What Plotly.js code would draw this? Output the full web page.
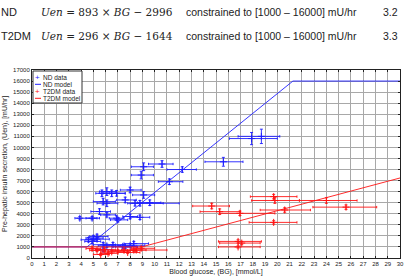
<!DOCTYPE html>
<html>
<head>
<meta charset="utf-8">
<script src="https://cdn.plot.ly/plotly-3.0.1.min.js"></script>
<style>
  html, body { margin: 0; padding: 0; background: #fff; }
  #chart { width: 408px; height: 278px; }
</style>
</head>
<body>
<div id="chart"></div>
<script>
// ND cohort: mean blood glucose (mmol/L) with range, and endogenous insulin secretion (mU/hr) with spread
const ndBG      = [3.9, 4.9, 5.5, 5.7, 6.1, 6.9, 5.8, 6.1, 6.1, 6.9, 7.0, 8.0, 8.8, 8.4, 8.8, 9.6, 9.1, 8.0, 7.6, 6.5,
                   9.1, 8.9, 10.6, 12.25, 11.2, 15.6, 17.9, 18.7,
                   4.6, 5.0, 5.3, 4.9, 5.3, 5.8, 6.1, 6.6, 7.4, 7.6, 8.3, 8.0, 5.8];
const ndBGlo    = [3.5, 4.4, 4.8, 5.2, 5.5, 6.3, 5.0, 5.3, 5.6, 6.3, 6.4, 7.4, 8.0, 7.8, 8.0, 8.6, 8.2, 7.2, 6.9, 5.8,
                   8.1, 8.1, 9.5, 11.0, 10.3, 14.1, 16.1, 16.8,
                   4.0, 4.4, 4.7, 4.3, 4.6, 5.0, 5.4, 5.9, 6.5, 6.8, 7.5, 7.0, 5.2];
const ndBGhi    = [5.3, 5.5, 6.4, 6.5, 6.8, 7.6, 6.8, 7.0, 6.8, 7.5, 7.8, 8.6, 9.6, 10.7, 12.0, 10.5, 10.0, 8.9, 8.5, 7.6,
                   9.9, 9.9, 11.5, 13.4, 12.3, 17.2, 20.0, 20.2,
                   5.3, 5.8, 6.2, 5.6, 6.3, 6.8, 7.2, 7.6, 8.5, 8.6, 9.5, 9.2, 6.5];
const ndUen     = [3600, 3600, 4200, 5850, 6000, 5850, 5100, 4950, 3900, 3600, 3450, 3750, 3680, 4950, 4950, 5000, 5700, 6150, 5250, 5850,
                   8250, 7500, 8500, 8000, 6900, 8700, 10800, 11000,
                   1650, 1800, 1950, 1500, 1700, 1200, 1100, 1200, 1050, 1000, 1300, 1150, 750];
const ndUenErr  = [150, 150, 250, 300, 350, 250, 300, 300, 200, 200, 200, 200, 200, 250, 250, 250, 300, 250, 250, 300,
                   350, 350, 300, 250, 250, 400, 550, 650,
                   200, 250, 200, 200, 200, 200, 150, 200, 150, 150, 200, 150, 150];

// T2DM cohort
const t2BG      = [4.9, 5.3, 5.9, 6.2, 6.5, 7.0, 7.5, 8.3, 8.5, 8.9, 5.6, 7.8,
                   16.8, 17.1, 16.8,
                   14.65, 15.3, 16.95, 19.7, 19.8, 20.6, 19.7, 24.0, 25.6];
const t2BGlo    = [4.4, 4.7, 5.2, 5.6, 5.7, 6.2, 6.6, 7.3, 8.0, 8.1, 5.0, 7.0,
                   15.2, 15.3, 15.2,
                   13.1, 13.7, 15.3, 17.8, 17.9, 18.6, 17.7, 21.8, 22.9];
const t2BGhi    = [5.6, 6.0, 6.8, 7.0, 7.5, 8.0, 8.5, 9.3, 11.0, 10.0, 6.3, 8.8,
                   18.7, 18.6, 18.6,
                   16.1, 17.0, 19.8, 21.6, 21.8, 22.7, 21.6, 26.5, 28.1];
const t2Uen     = [850, 700, 750, 420, 550, 630, 700, 720, 720, 880, 320, 500,
                   1500, 1350, 1000,
                   4700, 4190, 4040, 5550, 5200, 4340, 3220, 5200, 4600];
const t2UenErr  = [150, 120, 150, 100, 120, 120, 120, 120, 120, 150, 100, 100,
                   150, 150, 100,
                   250, 250, 200, 200, 250, 200, 150, 250, 200];

// Model lines: Uen = a*BG + b, constrained to [1000, 16000] mU/hr (breakpoints of the clipped line)
const ndModelBG  = [0, 4.48, 21.27, 30];
const ndModelUen = [1000, 1000, 16000, 16000];
const t2ModelBG  = [0, 8.93, 30];
const t2ModelUen = [1000, 1000, 7236];

const xTicks = [...Array(31).keys()];
const yTicks = [...Array(18).keys()].map(k => k * 1000);

const BLUE = 'rgb(30,30,255)';
const RED = 'rgb(255,20,20)';

const diff = (a, b) => a.map((v, i) => v - b[i]);

function dataTrace(name, bg, lo, hi, uen, err, color) {
  return {
    type: 'scatter', mode: 'markers', name: name, showlegend: false,
    x: bg, y: uen,
    marker: { symbol: 'cross-thin-open', size: 5, line: { color: color, width: 1 }, color: color },
    error_x: { type: 'data', symmetric: false, array: diff(hi, bg), arrayminus: diff(bg, lo),
               color: color, thickness: 0.9, width: 1.2 },
    error_y: { type: 'data', array: err, color: color, thickness: 0.9, width: 1.5 },
    hoverinfo: 'skip'
  };
}

const traces = [
  dataTrace('ND data', ndBG, ndBGlo, ndBGhi, ndUen, ndUenErr, BLUE),
  dataTrace('T2DM data', t2BG, t2BGlo, t2BGhi, t2Uen, t2UenErr, RED),
  { type: 'scatter', mode: 'lines', name: 'ND model', showlegend: false,
    x: ndModelBG, y: ndModelUen, line: { color: BLUE, width: 0.9 } },
  { type: 'scatter', mode: 'lines', name: 'T2DM model', showlegend: false,
    x: t2ModelBG, y: t2ModelUen, line: { color: RED, width: 0.9 } }
];

// plot area: x 32..400 px, y 70..258 px
const px = v => (v - 32) / 368;
const py = v => (258 - v) / 188;

const txt = { family: 'Liberation Sans, Arial, sans-serif', color: '#222' };
const eq  = { family: 'DejaVu Serif, serif', color: '#222' };

function note(x, y, text, font, size) {
  return { xref: 'paper', yref: 'paper', x: px(x), y: py(y), xanchor: 'left', yanchor: 'middle',
           text: text, showarrow: false, font: Object.assign({ size: size }, font), borderpad: 0 };
}

const annotations = [
  note(0, 12.5, 'ND', txt, 11),
  note(40, 12.5, '<i>Uen</i> = 893 × <i>BG</i> − 2996', eq, 10.5),
  note(185, 12.5, 'constrained to [1000 – 16000] mU/hr', txt, 10.5),
  note(382, 12.5, '3.2', txt, 10.5),
  note(0, 36, 'T2DM', txt, 11),
  note(40, 36, '<i>Uen</i> = 296 × <i>BG</i> − 1644', eq, 10.5),
  note(185, 36, 'constrained to [1000 – 16000] mU/hr', txt, 10.5),
  note(382, 36, '3.3', txt, 10.5),
  // legend entries
  note(42, 77, 'ND data', txt, 6.5),
  note(42, 84.3, 'ND model', txt, 6.5),
  note(42, 91, 'T2DM data', txt, 6.5),
  note(42, 98.3, 'T2DM model', txt, 6.5),
  { xref: 'paper', yref: 'paper', x: px(37.5), y: py(77), text: '+', showarrow: false,
    font: { size: 8, color: BLUE, family: 'Liberation Sans' }, xanchor: 'center', yanchor: 'middle', borderpad: 0 },
  { xref: 'paper', yref: 'paper', x: px(37.5), y: py(91), text: '+', showarrow: false,
    font: { size: 8, color: RED, family: 'Liberation Sans' }, xanchor: 'center', yanchor: 'middle', borderpad: 0 }
];

const shapes = [
  { type: 'rect', xref: 'paper', yref: 'paper', x0: px(33), x1: px(82), y0: py(103), y1: py(71),
    line: { color: '#333', width: 1 }, fillcolor: '#fff', layer: 'above' },
  { type: 'line', xref: 'paper', yref: 'paper', x0: px(35), x1: px(41), y0: py(84.3), y1: py(84.3),
    line: { color: BLUE, width: 1 }, layer: 'above' },
  { type: 'line', xref: 'paper', yref: 'paper', x0: px(35), x1: px(41), y0: py(98.3), y1: py(98.3),
    line: { color: RED, width: 1 }, layer: 'above' }
];

const axisCommon = {
  showgrid: true, gridcolor: '#a8a8a8', gridwidth: 1,
  showline: true, linecolor: '#222', linewidth: 1, mirror: 'ticks',
  ticks: 'inside', ticklen: 2, tickcolor: '#222',
  zeroline: false, automargin: false,
  tickfont: { family: 'Liberation Sans, Arial, sans-serif', size: 6, color: '#222' }
};

const layout = {
  width: 408, height: 278,
  margin: { l: 32, r: 8, t: 70, b: 20, pad: 0 },
  paper_bgcolor: '#fff', plot_bgcolor: '#fff',
  showlegend: false,
  xaxis: Object.assign({}, axisCommon, {
    range: [0, 30], tickvals: xTicks, ticktext: xTicks.map(String),
    title: { text: 'Blood glucose, (BG), [mmol/L]', standoff: 2,
             font: { family: 'Liberation Sans, Arial, sans-serif', size: 7, color: '#222' } }
  }),
  yaxis: Object.assign({}, axisCommon, {
    range: [0, 17000], tickvals: yTicks, ticktext: yTicks.map(String),
    title: { text: 'Pre-hepatic insulin secretion, (Uen), [mU/hr]', standoff: 4,
             font: { family: 'Liberation Sans, Arial, sans-serif', size: 7, color: '#222' } }
  }),
  annotations: annotations,
  shapes: shapes
};

Plotly.newPlot('chart', traces, layout, { staticPlot: true, displayModeBar: false });
</script>
</body>
</html>
